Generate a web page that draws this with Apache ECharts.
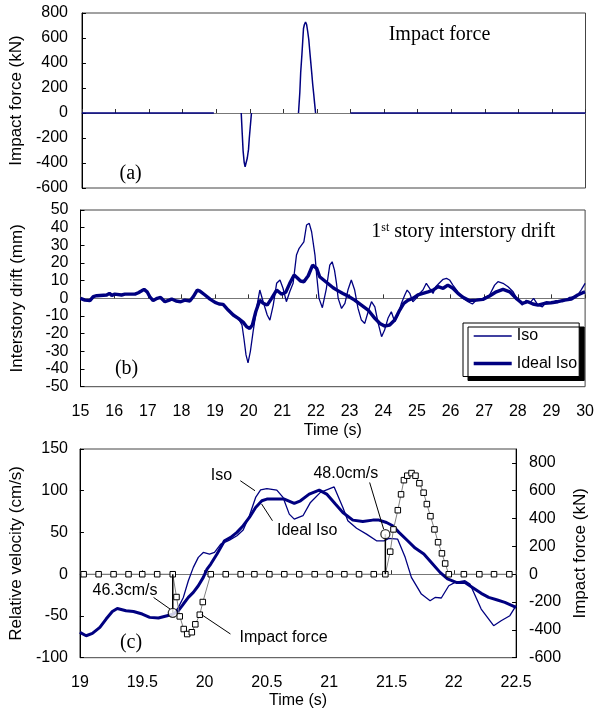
<!DOCTYPE html>
<html><head><meta charset="utf-8">
<script src="https://cdn.jsdelivr.net/npm/echarts@6/dist/echarts.min.js"></script>
<style>html,body{margin:0;padding:0;background:#fff}#c{width:597px;height:710px}</style>
</head><body><div id="c"></div><script>
// ---------- Panel (a): impact force vs time ----------
const aTime = [15, 18.93, 18.93, 19.745, 19.775, 19.801, 19.833, 19.861, 19.898, 19.926, 19.962, 19.986, 20.05, 20.05,
  21.451, 21.49, 21.516, 21.551, 21.577, 21.60, 21.627, 21.661, 21.693, 21.724, 21.758, 21.784, 21.813, 21.845, 21.874, 21.905, 21.931, 21.96, 21.96, 23.0, 30];
const aForce = [0, 0, '-', 0, -164, -303, -394, -430, -417, -360, -291, -200, 0, '-',
  0, 162, 322, 460, 574, 676, 708, 727, 708, 654, 586, 504, 417, 322, 230, 150, 77, 0, '-', 0, 0];

// ---------- Panel (b): interstory drift ----------
const bCommonT = [15.0, 15.13, 15.28, 15.38, 15.48, 15.78, 15.86, 15.93, 16.02, 16.22, 16.32, 16.62, 16.72, 16.82, 16.89, 16.98, 17.06, 17.16, 17.28, 17.38, 17.51, 17.64, 17.71, 17.84, 17.98, 18.10, 18.25, 18.35, 18.47, 18.55, 18.70, 18.85, 19.0, 19.12, 19.24, 19.39, 19.54, 19.69];
const bCommonV = [0, -1, -1.3, 1, 1.5, 1.9, 2.8, 1.7, 2.4, 1.9, 2.4, 2.4, 3.2, 4.3, 5.1, 3.7, 0.9, -1.3, 0, 0.5, -1.9, -1, -0.4, -1.5, -1.9, -1, -1.5, 0.9, 4.7, 4.1, 1.9, -0.4, -2.3, -3.2, -3.4, -6.6, -9.4, -11.3];
const bIdealT = [19.84, 19.94, 20.03, 20.11, 20.21, 20.33, 20.43, 20.55, 20.68, 20.83, 20.98, 21.10, 21.22, 21.35, 21.44, 21.54, 21.64, 21.77, 21.90, 22.02, 22.11, 22.31, 22.51, 22.61, 22.80, 22.95, 23.15, 23.35, 23.55, 23.75, 23.90, 24.04, 24.19, 24.34, 24.49, 24.61, 24.74, 24.88, 25.03, 25.18, 25.33, 25.48, 25.63, 25.78, 25.92, 26.07, 26.22, 26.37, 26.57, 26.77, 26.96, 27.16, 27.36, 27.56, 27.76, 27.95, 28.13, 28.30, 28.45, 28.60, 28.80, 28.99, 29.19, 29.39, 29.59, 29.78, 29.93, 30.0];
const bIdealV = [-13.6, -16.1, -17, -15.1, -7.6, -1, -2.8, -3.8, 0, 4.7, 2.3, 3.4, 8.5, 13.2, 11.7, 9.8, 9.4, 12.8, 18.8, 17, 12.2, 9.1, 6, 4.8, 2.8, 1.3, -1, -3.8, -6.6, -11.3, -14.2, -15.7, -15.1, -12.3, -6.6, -2.8, -1, 0, 1.9, 2.8, 3.7, 4.7, 6.6, 5.7, 7.5, 5.7, 2.8, 0.6, -1.3, -1, -0.6, 1.3, 3.7, 5.1, 3.7, 0, -2.8, -1.9, -3.2, -3.8, -2.8, -2.5, -1.9, -1, -0.4, 1.9, 3.2, 3.7];
const bIsoT = [19.80, 19.86, 19.92, 19.98, 20.05, 20.13, 20.25, 20.33, 20.43, 20.55, 20.63, 20.73, 20.83, 20.93, 21.02, 21.12, 21.22, 21.32, 21.42, 21.50, 21.64, 21.72, 21.80, 21.87, 21.97, 22.02, 22.09, 22.19, 22.31, 22.41, 22.48, 22.55, 22.61, 22.66, 22.76, 22.86, 22.95, 23.05, 23.15, 23.25, 23.35, 23.45, 23.55, 23.65, 23.75, 23.85, 23.95, 24.04, 24.14, 24.24, 24.34, 24.44, 24.54, 24.64, 24.71, 24.79, 24.88, 24.98, 25.08, 25.18, 25.28, 25.38, 25.48, 25.56, 25.66, 25.78, 25.88, 25.97, 26.07, 26.22, 26.37, 26.52, 26.65, 26.77, 26.96, 27.16, 27.31, 27.41, 27.56, 27.71, 27.86, 28.0, 28.13, 28.25, 28.35, 28.47, 28.60, 28.73, 28.85, 28.99, 29.14, 29.34, 29.54, 29.74, 29.88, 30.0];
const bIsoV = [-15, -23, -32, -36.5, -30, -19, -3.8, 4.7, -1.9, -9.4, -12.3, -3.8, 8.5, 10.4, 5.7, -1.9, 3.7, 8.5, 24.5, 28.3, 32, 41.5, 42.4, 37.7, 24.5, 13.2, 0, -5.3, 5.7, 18.8, 20.7, 16, 8.5, 0, -5.7, -2.8, 4.7, 10.4, 4.7, -5.7, -12.3, -14.2, -7.6, -1.9, -4.8, -14.2, -21.7, -17.9, -11.3, -7.6, -13.2, -9.4, -2.8, 1.9, 4.7, 2.8, -1.9, 0, 2.8, 4.7, 8.5, 5.7, 2.8, 6.6, 8.5, 10.8, 11.3, 10.4, 7.5, 3.7, 0, -1.9, -3.2, -1, 0, 1.9, 7.5, 9.4, 8.5, 6.6, 3.7, -1, -3.8, -1, -2.8, 0, -3.8, -4.8, -1.9, -2.8, -1.3, -1.9, 0.6, 0.9, 4.7, 8.5];

// ---------- Panel (c): relative velocity + impact force ----------
const cCommonT = [19.0, 19.05, 19.10, 19.16, 19.21, 19.26, 19.30, 19.37, 19.43, 19.50, 19.56, 19.63, 19.70, 19.75];
const cCommonV = [-69.7, -73.7, -70.9, -63.7, -53.7, -44.6, -41, -43.7, -44.6, -47.7, -51.7, -52.5, -49.7, -47.7];
const cIdealT = [19.79, 19.83, 19.87, 19.91, 19.95, 19.99, 20.02, 20.05, 20.10, 20.16, 20.21, 20.26, 20.31, 20.36, 20.41, 20.46, 20.50, 20.58, 20.64, 20.72, 20.77, 20.84, 20.92, 20.98, 21.05, 21.11, 21.19, 21.27, 21.35, 21.40, 21.46, 21.51, 21.56, 21.63, 21.69, 21.76, 21.82, 21.89, 21.95, 22.02, 22.09, 22.15, 22.22, 22.28, 22.35, 22.41, 22.50];
const cIdealV = [-43.7, -35.7, -27.8, -21.8, -13.8, -3.8, 6.2, 12.2, 24.2, 40.1, 44.1, 50.1, 58.1, 68, 80, 88, 90, 90, 90, 84.8, 88, 96, 100.8, 96, 84, 74, 64.8, 63.2, 64.8, 64.8, 62, 58.1, 50.1, 40.1, 31.3, 24.2, 14.1, 2.2, -5.7, -9.8, -9.8, -15.8, -22.9, -27.8, -30.9, -33.7, -39.7];
const cIsoT = [19.79, 19.83, 19.87, 19.91, 19.95, 19.99, 20.04, 20.08, 20.13, 20.20, 20.26, 20.31, 20.36, 20.41, 20.45, 20.50, 20.58, 20.63, 20.68, 20.72, 20.79, 20.85, 20.93, 21.04, 21.11, 21.15, 21.22, 21.30, 21.38, 21.44, 21.48, 21.55, 21.61, 21.66, 21.74, 21.81, 21.85, 21.90, 21.96, 22.01, 22.09, 22.13, 22.22, 22.32, 22.38, 22.45, 22.50];
const cIsoV = [-39.7, -27.8, -7.8, 8.2, 20.2, 26.1, 24.2, 26.1, 36.1, 40.9, 46.1, 53, 70, 92, 101, 102.6, 100.8, 92, 72, 66, 70.1, 86, 98, 104.6, 80, 64, 55, 48, 40, 40, 43, 42, 20.2, -3.8, -23.8, -31.7, -27.8, -28.5, -13.8, -9.8, -7.8, -11.8, -41.7, -61.7, -55.7, -49.7, -37.7];
const cImpactT = [19.03, 19.15, 19.27, 19.39, 19.50, 19.62, 19.745, 19.775, 19.801, 19.833, 19.861, 19.898, 19.926, 19.962, 19.986,
  20.05, 20.17, 20.29, 20.40, 20.52, 20.64, 20.76, 20.884, 21.004, 21.122, 21.24, 21.358,
  21.451, 21.49, 21.516, 21.551, 21.577, 21.60, 21.627, 21.661, 21.693, 21.724, 21.758, 21.784, 21.813, 21.845, 21.874, 21.905, 21.931, 21.96,
  22.081, 22.205, 22.323, 22.446];
const cImpactF = [0, 0, 0, 0, 0, 0, 0, -164, -303, -394, -430, -417, -360, -291, -200,
  0, 0, 0, 0, 0, 0, 0, 0, 0, 0, 0, 0,
  0, 162, 322, 460, 574, 676, 708, 727, 708, 654, 586, 504, 417, 322, 230, 150, 77, 0,
  0, 0, 0, 0];
const cMarkT = [19.745, 21.451];
const cMarkV = [-46.3, 48.0];
const cMarkLabels = ['46.3cm/s', '48.0cm/s'];

// ---------- helpers ----------
const SANS = 'Liberation Sans', SERIF = 'Liberation Serif';
const NAVY = '#000080';
const zip = (t, v) => t.map((x, i) => [x, v[i]]);

const stemData = [];
cMarkT.forEach((t, i) => { stemData.push([t, 0], [t, cMarkV[i]], [t, '-']); });

function yAx(o) {
  return {
    type: 'value', gridIndex: o.grid, min: o.min, max: o.max, interval: o.interval,
    position: o.position || 'left',
    name: o.name, nameLocation: 'middle', nameGap: o.gap,
    nameTextStyle: { color: '#000', fontSize: 17, fontFamily: SANS },
    axisLine: { show: true, onZero: false, lineStyle: { color: '#000', width: 1 } },
    axisTick: { show: true, inside: true, length: 4, lineStyle: { color: '#000' } },
    axisLabel: { color: '#000', fontSize: 16, fontFamily: SANS, margin: o.margin || 12, showMaxLabel: o.showMax !== false },
    splitLine: { show: false }
  };
}
function zeroX(grid, min, max, interval) {
  return {
    type: 'value', gridIndex: grid, min, max, interval, position: 'top',
    axisLine: { show: true, onZero: true, lineStyle: { color: '#777', width: 1.2 } },
    axisTick: { show: true, inside: false, length: 4, lineStyle: { color: '#333' } },
    axisLabel: { show: false }, splitLine: { show: false }
  };
}
function labelX(grid, min, max, interval, gap, margin) {
  return {
    type: 'value', gridIndex: grid, min, max, interval, position: 'bottom',
    name: 'Time (s)', nameLocation: 'middle', nameGap: gap,
    nameTextStyle: { color: '#000', fontSize: 16, fontFamily: SANS },
    axisLine: { show: false, onZero: false }, axisTick: { show: false },
    axisLabel: { color: '#000', fontSize: 16, fontFamily: SANS, margin: margin },
    splitLine: { show: false }
  };
}
function note(coord, text, font, size, extra) {
  return Object.assign({
    coord: coord, symbol: 'circle', symbolSize: 1, itemStyle: { color: 'rgba(0,0,0,0)' },
    label: { show: true, position: 'inside', formatter: text, color: '#000', fontFamily: font, fontSize: size }
  }, extra || {});
}
const leader = (p, q) => [{ coord: p }, { coord: q }];

const gridBorder = { show: true, borderColor: '#444', borderWidth: 1, backgroundColor: 'rgba(0,0,0,0)' };

const option = {
  animation: false,
  textStyle: { fontFamily: SANS },
  grid: [
    Object.assign({ left: 77, top: 13, width: 508.5, height: 175 }, gridBorder),
    Object.assign({ left: 80.5, top: 210, width: 505, height: 176.7 }, gridBorder),
    Object.assign({ left: 75, top: 449, width: 444, height: 208.7 }, gridBorder)
  ],
  xAxis: [
    zeroX(0, 15, 30, 1),
    labelX(1, 15, 30, 1, 36, 17),
    zeroX(1, 15, 30, 1),
    labelX(2, 19, 22.5, 0.5, 35, 17),
    zeroX(2, 19, 22.5, 0.5)
  ],
  yAxis: [
    yAx({ grid: 0, min: -600, max: 800, interval: 200, name: 'Impact force (kN)', gap: 50, margin: 14 }),
    yAx({ grid: 1, min: -50, max: 50, interval: 10, name: 'Interstory drift (mm)', gap: 55 }),
    yAx({ grid: 2, min: -100, max: 150, interval: 50, name: 'Relative velocity (cm/s)', gap: 49 }),
    yAx({ grid: 2, min: -600, max: 900, interval: 200, name: 'Impact force (kN)', gap: 53, position: 'right', showMax: false, margin: 13 })
  ],
  legend: {
    data: ['Iso', 'Ideal Iso'], orient: 'vertical', left: 463, top: 323,
    padding: [5, 2, 5, 9], itemWidth: 38, itemHeight: 14, itemGap: 11.5,
    textStyle: { color: '#000', fontSize: 16, fontFamily: SANS },
    backgroundColor: '#fff', borderColor: '#000', borderWidth: 1,
    shadowColor: '#000', shadowOffsetX: 5, shadowOffsetY: 4, shadowBlur: 0,
    itemStyle: { opacity: 0, color: 'rgba(0,0,0,0)', borderWidth: 0 },
    lineStyle: { width: 'inherit' }
  },
  series: [
    { name: 'Impact force a', type: 'line', xAxisIndex: 0, yAxisIndex: 0, data: zip(aTime, aForce),
      symbol: 'none', connectNulls: false, lineStyle: { color: NAVY, width: 1.5 },
      markPoint: { silent: true, data: [
        note([25.65, 624], 'Impact force', SERIF, 20),
        note([16.45, -482], '(a)', SERIF, 20)
      ] } },
    { name: 'Iso', type: 'line', xAxisIndex: 1, yAxisIndex: 1, data: zip(bCommonT.concat(bIsoT), bCommonV.concat(bIsoV)),
      symbol: 'none', color: NAVY, lineStyle: { color: NAVY, width: 1.3 } },
    { name: 'Ideal Iso', type: 'line', xAxisIndex: 1, yAxisIndex: 1, data: zip(bCommonT.concat(bIdealT), bCommonV.concat(bIdealV)),
      symbol: 'none', color: NAVY, lineStyle: { color: NAVY, width: 3.4 },
      markPoint: { silent: true, data: [
        note([26.38, 37.7], '', SERIF, 20, {
          label: { show: true, position: 'inside', formatter: '{n|1}{s|st}{n| story interstory drift}',
            rich: { n: { fontFamily: SERIF, fontSize: 20, color: '#000' }, s: { fontFamily: SERIF, fontSize: 12, color: '#000', verticalAlign: 'top' } } } }),
        note([16.37, -39.6], '(b)', SERIF, 20)
      ] } },
    { name: 'Iso velocity', type: 'line', xAxisIndex: 3, yAxisIndex: 2, data: zip(cCommonT.concat(cIsoT), cCommonV.concat(cIsoV)),
      symbol: 'none', lineStyle: { color: NAVY, width: 1.3 } },
    { name: 'Ideal Iso velocity', type: 'line', xAxisIndex: 3, yAxisIndex: 2, data: zip(cCommonT.concat(cIdealT), cCommonV.concat(cIdealV)),
      symbol: 'none', lineStyle: { color: NAVY, width: 3 } },
    { name: 'Impact force c', type: 'line', xAxisIndex: 3, yAxisIndex: 3, data: zip(cImpactT, cImpactF),
      symbol: 'rect', symbolSize: 5.5, showSymbol: true, showAllSymbol: true,
      itemStyle: { color: '#fff', borderColor: '#000', borderWidth: 1 },
      lineStyle: { color: '#808080', width: 1 }, z: 4 },
    { name: 'stems', type: 'line', xAxisIndex: 3, yAxisIndex: 2, data: stemData, symbol: 'none', connectNulls: false,
      lineStyle: { color: '#000', width: 1.5 }, z: 5 },
    { name: 'circles', type: 'scatter', xAxisIndex: 3, yAxisIndex: 2, data: zip(cMarkT, cMarkV),
      symbol: 'circle', symbolSize: 9, itemStyle: { color: '#fff', borderColor: '#000', borderWidth: 1.3 }, z: 6,
      markLine: { silent: true, symbol: ['none', 'none'], lineStyle: { color: '#000', width: 1, type: 'solid' }, label: { show: false },
        data: [
          leader([19.591, -27.8], [19.723, -41.7]),
          leader([21.325, 109.9], [21.437, 54.1]),
          leader([20.287, 112], [20.405, 100]),
          leader([20.458, 84.1], [20.545, 64.1]),
          leader([19.977, -48.5], [20.208, -71.6])
        ] },
      markPoint: { silent: true, data: [
        note([19.362, -19.8], cMarkLabels[0], SANS, 16),
        note([21.134, 120], cMarkLabels[1], SANS, 16),
        note([20.135, 118], 'Iso', SANS, 16),
        note([20.824, 52.1], 'Ideal Iso', SANS, 16),
        note([20.634, -75.7], 'Impact force', SANS, 16),
        note([19.41, -81.7], '(c)', SERIF, 20)
      ] } }
  ]
};
const chart = echarts.init(document.getElementById('c'), null, { renderer: 'canvas' });
chart.setOption(option);
</script></body></html>
